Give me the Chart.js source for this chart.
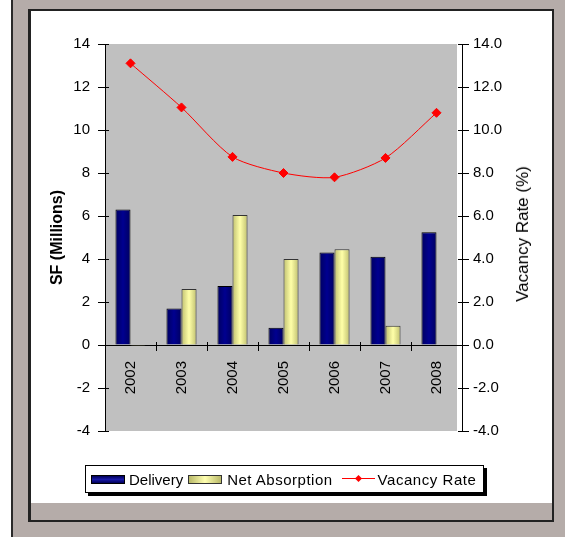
<!DOCTYPE html>
<html>
<head>
<meta charset="utf-8">
<script src="https://cdn.jsdelivr.net/npm/chart.js@4.4.0/dist/chart.umd.min.js"></script>
<style>
  html, body { margin: 0; padding: 0; }
  body { width: 565px; height: 537px; background: #b5aca9; position: relative; overflow: hidden;
         font-family: 'Liberation Sans', Arial, sans-serif; }
  .leftWhite { position: absolute; left: 0; top: 0; width: 11px; height: 537px; background: #fff; }
  .outerLine { position: absolute; left: 11px; top: 0; width: 2px; height: 537px; background: #2a2a2a; }
  .frame { position: absolute; left: 28px; top: 9px; width: 521px; height: 509px;
           border: 2px solid #222; border-left-width: 3px; background: #b5aca9; }
  .white { position: absolute; left: 0; top: 0; width: 521px; height: 492px; background: #fff; }
  #chartWrap { position: absolute; left: 0; top: 0; width: 565px; height: 537px; }
  .legend { position: absolute; left: 85px; top: 465px; width: 397px; height: 26px;
            border: 1px solid #000; background: #fff; box-shadow: 3px 3px 0 #000;
            display: flex; align-items: center; font-size: 15px; color: #000; }
  .sw { width: 32px; height: 7px; border: 1px solid #000; }
  .sw.del { background: linear-gradient(#000058, #1a1aa8 50%, #000058); margin-left: 5px; }
  .sw.net { background: linear-gradient(90deg, #b8b868, #ffffb0 50%, #b8b868); margin-left: 5px; border-color: #333; }
  .sw.vac { width: 33px; height: 10px; border: none; position: relative; margin-left: 9px; }
  .sw.vac::before { content: ''; position: absolute; left: 0; right: 0; top: 4px; height: 1px; background: #f00; }
  .sw.vac::after { content: ''; position: absolute; left: 14px; top: 2px; width: 5px; height: 5px;
                   background: #f00; transform: rotate(45deg); }
  .lbl { margin-left: 4px; white-space: nowrap; }
  .lbl.wide { letter-spacing: 0.5px; margin-left: 5px; }
  .lbl.vacl { letter-spacing: 0.55px; margin-left: 3px; }
  .rtitle { position: absolute; left: 523px; top: 234px; transform: translate(-50%, -50%) rotate(-90deg);
            font-size: 17px; white-space: nowrap; color: #000; }
</style>
</head>
<body>
<div class="leftWhite"></div>
<div class="outerLine"></div>
<div class="frame"><div class="white"></div></div>
<div id="chartWrap"><canvas id="chart" width="565" height="537"></canvas></div>
<div class="rtitle">Vacancy Rate (%)</div>
<div class="legend">
  <div class="sw del"></div><span class="lbl">Delivery</span>
  <div class="sw net"></div><span class="lbl wide">Net Absorption</span>
  <div class="sw vac"></div><span class="lbl vacl">Vacancy Rate</span>
</div>
<script>
// data
const years = ['2002', '2003', '2004', '2005', '2006', '2007', '2008'];
const delivery = [6.3, 1.7, 2.75, 0.8, 4.3, 4.1, 5.25];
const netAbsorption = [-0.05, 2.6, 6.05, 4.0, 4.45, 0.9, null];
const vacancyRate = [13.1, 11.05, 8.75, 8.0, 7.8, 8.7, 10.8];

Chart.defaults.font.family = "'Liberation Sans', Arial, sans-serif";
Chart.defaults.font.size = 15;
Chart.defaults.color = '#000';

// horizontal shading across a bar, edges darker
function barShade(edge, mid, fallback) {
    return function(ctx) {
        const el = ctx.element;
        if (!el || !isFinite(el.x) || !isFinite(el.width) || !el.width) return fallback;
        const c = ctx.chart.ctx;
        const g = c.createLinearGradient(el.x - el.width / 2, 0, el.x + el.width / 2, 0);
        g.addColorStop(0, edge);
        g.addColorStop(0.5, mid);
        g.addColorStop(1, edge);
        return g;
    };
}

// gray plot area + the inner half of the cross tick marks
const plotBg = {
    id: 'plotBg',
    beforeDraw(chart) {
        const a = chart.chartArea;
        const c = chart.ctx;
        c.save();
        c.fillStyle = '#c0c0c0';
        c.fillRect(a.left, a.top, a.right - a.left - 5, a.bottom - a.top);
        c.restore();
    },
    afterDraw(chart) {
        const c = chart.ctx;
        const x = chart.scales.x, y = chart.scales.y, y1 = chart.scales.y1;
        c.save();
        c.strokeStyle = '#000';
        c.lineWidth = 1;
        c.beginPath();
        y.ticks.forEach(t => {
            const py = Math.round(y.getPixelForValue(t.value)) + 0.5;
            c.moveTo(y.right, py); c.lineTo(y.right + 4, py);
        });
        y1.ticks.forEach(t => {
            const py = Math.round(y1.getPixelForValue(t.value)) + 0.5;
            c.moveTo(y1.left - 4, py); c.lineTo(y1.left, py);
        });
        const zero = Math.round(y.getPixelForValue(0));
        for (let i = 1; i < years.length; i++) {
            const px = Math.round((x.getPixelForValue(i - 1) + x.getPixelForValue(i)) / 2) + 0.5;
            c.moveTo(px, zero - 3); c.lineTo(px, zero);
        }
        c.stroke();
        c.restore();
    }
};

const chartCtx = document.getElementById('chart').getContext('2d');
const chart = new Chart(chartCtx, {
    type: 'bar',
    data: {
        labels: years,
        datasets: [{
            type: 'line',
            label: 'Vacancy Rate',
            data: vacancyRate,
            yAxisID: 'y1',
            borderColor: '#ff0000',
            backgroundColor: '#ff0000',
            borderWidth: 1,
            pointStyle: 'rectRot',
            pointRadius: 4.5,
            tension: 0.25,
            order: 0
        }, {
            label: 'Delivery',
            data: delivery,
            yAxisID: 'y',
            backgroundColor: barShade('#000060', '#000090', '#000080'),
            borderColor: '#000',
            borderWidth: 1,
            categoryPercentage: 0.59,
            barPercentage: 1.0,
            order: 1
        }, {
            label: 'Net Absorption',
            data: netAbsorption,
            yAxisID: 'y',
            backgroundColor: barShade('#c0c070', '#ffffa8', '#f0f090'),
            borderColor: '#333',
            borderWidth: 1,
            categoryPercentage: 0.59,
            barPercentage: 1.0,
            order: 1
        }]
    },
    options: {
        responsive: false,
        animation: false,
        layout: {
            padding: { left: 44, right: 28, top: 44, bottom: 106 }
        },
        plugins: {
            legend: { display: false },
            tooltip: { enabled: false }
        },
        scales: {
            x: {
                position: { y: 0 },
                offset: true,
                grid: {
                    offset: true,
                    drawOnChartArea: false,
                    tickLength: 5,
                    color: '#000'
                },
                border: { color: '#000', width: 1 },
                ticks: {
                    minRotation: 90,
                    maxRotation: 90,
                    padding: 11,
                    font: { size: 15 }
                }
            },
            y: {
                position: 'left',
                min: -4,
                max: 14,
                ticks: { stepSize: 2, padding: 8 },
                grid: { drawOnChartArea: false, tickLength: 7, color: '#000' },
                border: { color: '#000', width: 1 },
                title: {
                    display: true,
                    text: 'SF (Millions)',
                    font: { size: 16, weight: 'bold' }
                },
                afterFit(scale) { scale.width = 61; }
            },
            y1: {
                position: 'right',
                min: -4,
                max: 14,
                ticks: {
                    stepSize: 2,
                    padding: 4,
                    callback: v => Number(v).toFixed(1)
                },
                grid: { drawOnChartArea: false, tickLength: 7, color: '#000' },
                border: { color: '#000', width: 1 },
                afterFit(scale) { scale.width = 75; }
            }
        }
    },
    plugins: [plotBg]
});
// second pass so the bar shading can use the laid-out bar widths
chart.update();
</script>
</body>
</html>
